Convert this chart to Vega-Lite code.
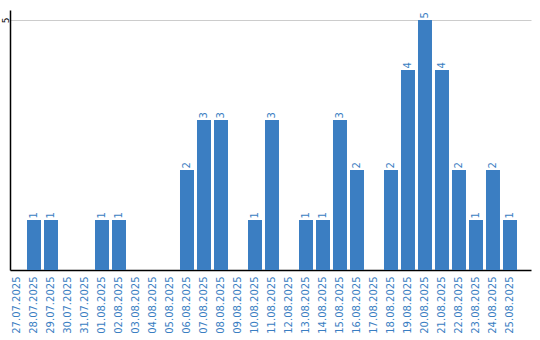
{
  "$schema": "https://vega.github.io/schema/vega-lite/v6.json",
  "autosize": {"type": "none"},
  "padding": {"left": 10, "top": 10, "right": 9, "bottom": 70},
  "width": 521,
  "height": 260,
  "background": "white",
  "config": {"view": {"stroke": null}, "font": "DejaVu Sans"},
  "data": {"values": [
    {"date": "27.07.2025", "count": 0},
    {"date": "28.07.2025", "count": 1},
    {"date": "29.07.2025", "count": 1},
    {"date": "30.07.2025", "count": 0},
    {"date": "31.07.2025", "count": 0},
    {"date": "01.08.2025", "count": 1},
    {"date": "02.08.2025", "count": 1},
    {"date": "03.08.2025", "count": 0},
    {"date": "04.08.2025", "count": 0},
    {"date": "05.08.2025", "count": 0},
    {"date": "06.08.2025", "count": 2},
    {"date": "07.08.2025", "count": 3},
    {"date": "08.08.2025", "count": 3},
    {"date": "09.08.2025", "count": 0},
    {"date": "10.08.2025", "count": 1},
    {"date": "11.08.2025", "count": 3},
    {"date": "12.08.2025", "count": 0},
    {"date": "13.08.2025", "count": 1},
    {"date": "14.08.2025", "count": 1},
    {"date": "15.08.2025", "count": 3},
    {"date": "16.08.2025", "count": 2},
    {"date": "17.08.2025", "count": 0},
    {"date": "18.08.2025", "count": 2},
    {"date": "19.08.2025", "count": 4},
    {"date": "20.08.2025", "count": 5},
    {"date": "21.08.2025", "count": 4},
    {"date": "22.08.2025", "count": 2},
    {"date": "23.08.2025", "count": 1},
    {"date": "24.08.2025", "count": 2},
    {"date": "25.08.2025", "count": 1}
  ]},
  "encoding": {
    "x": {
      "field": "date", "type": "ordinal", "sort": null,
      "scale": {"paddingInner": 0.1765, "paddingOuter": 0.412, "align": 0},
      "axis": {
        "title": null, "labelAngle": -90, "labelColor": "#3a7ec2", "labelFontSize": 10,
        "labelFont": "DejaVu Sans", "ticks": false, "labelPadding": 6,
        "domainColor": "black", "domainWidth": 1.5, "labelBaseline": "middle", "labelAlign": "right"
      }
    },
    "y": {
      "field": "count", "type": "quantitative",
      "scale": {"domain": [0, 5.2], "nice": false},
      "axis": {
        "title": null, "values": [5], "labelAngle": -90, "labelFontSize": 9, "labelColor": "black",
        "labelFont": "DejaVu Sans", "labelAlign": "center", "labelBaseline": "middle",
        "ticks": false, "labelPadding": 5, "domainColor": "black", "domainWidth": 1.5,
        "gridColor": "#cccccc", "gridWidth": 1
      }
    }
  },
  "layer": [
    {"mark": {"type": "bar", "color": "#3b7ec2"}},
    {
      "transform": [{"filter": "datum.count > 0"}],
      "mark": {"type": "text", "angle": -90, "align": "left", "baseline": "middle", "dx": 1.5, "fontSize": 10, "color": "#3a7ec2"},
      "encoding": {"text": {"field": "count", "type": "quantitative"}}
    }
  ]
}
